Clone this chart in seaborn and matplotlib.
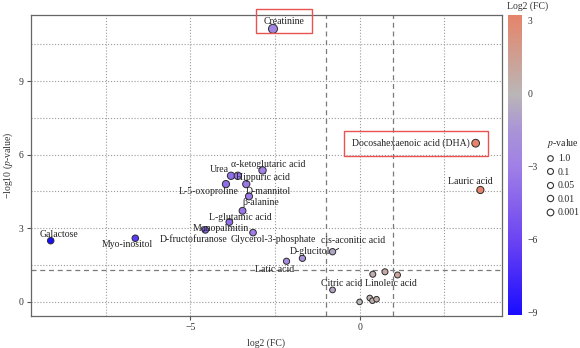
import numpy as np
import pandas as pd
import seaborn as sns
import matplotlib as mpl
import matplotlib.pyplot as plt
from matplotlib.colors import LinearSegmentedColormap, Normalize
from matplotlib.lines import Line2D

# metabolites
names = ["Creatinine", "Docosahexaenoic acid (DHA)", "Lauric acid", "Galactose", "Myo-inositol",
         "α-ketoglutaric acid", "Urea", "Hippuric acid", "L-5-oxoproline", "D-mannitol",
         "β-alanine", "L-glutamic acid", "Monopalmitin", "D-fructofuranose", "Glycerol-3-phosphate",
         "D-glucitol", "Latic acid", "cis-aconitic acid", "Citric acid", "Linoleic acid",
         "", "", "", "", "", ""]
log2fc = [-2.56, 3.43, 3.57, -9.13, -6.63,
          -2.87, -3.80, -3.60, -3.95, -3.35,
          -3.27, -3.46, -3.85, -4.56, -3.15,
          -1.69, -2.16, -0.80, -0.80, 1.12,
          0.00, 0.30, 0.38, 0.50, 0.39, 0.75]
neglogp = [11.14, 6.47, 4.56, 2.49, 2.59,
           5.36, 5.14, 5.14, 4.80, 4.80,
           4.30, 3.71, 3.25, 2.93, 2.82,
           1.77, 1.65, 2.04, 0.48, 1.09,
           -0.01, 0.15, 0.04, 0.10, 1.12, 1.22]

legend_p = [1.0, 0.1, 0.05, 0.01, 0.001]
cbar_ticks = [3, 0, -3, -6, -9]

df = pd.DataFrame({"name": names, "log2fc": log2fc, "neglogp": neglogp})

# label placement (data coords) picked to mimic the repelled labels
label_pos = {
    "Creatinine": (-2.24, 11.45),
    "Lauric acid": (3.26, 4.91),
    "Galactose": (-8.87, 2.76),
    "Myo-inositol": (-6.86, 2.33),
    "α-ketoglutaric acid": (-2.69, 5.62),
    "Urea": (-4.15, 5.40),
    "Hippuric acid": (-2.85, 5.05),
    "L-5-oxoproline": (-4.45, 4.49),
    "D-mannitol": (-2.70, 4.49),
    "β-alanine": (-2.93, 4.04),
    "L-glutamic acid": (-3.54, 3.43),
    "Monopalmitin": (-4.09, 3.00),
    "D-fructofuranose": (-4.90, 2.55),
    "Glycerol-3-phosphate": (-2.56, 2.55),
    "D-glucitol": (-1.47, 2.03),
    "Latic acid": (-2.52, 1.31),
    "cis-aconitic acid": (-0.18, 2.49),
    "Citric acid": (-0.53, 0.75),
    "Linoleic acid": (0.92, 0.75),
}
with_segment = ["D-fructofuranose", "cis-aconitic acid"]

sns.set_theme(style="white")
plt.rcParams["font.family"] = ["Liberation Serif", "DejaVu Serif"]
plt.rcParams["mathtext.fontset"] = "stix"

vmin, vmax = -9.1, 3.25
stops = [(-9.1, "#1a0cff"), (-6.0, "#6c44f2"), (-3.0, "#a080e6"), (-1.5, "#a994d6"),
         (0.0, "#bab6b6"), (3.25, "#e5846a")]
cmap = LinearSegmentedColormap.from_list(
    "fc", [((v - vmin) / (vmax - vmin), c) for v, c in stops])
norm = Normalize(vmin, vmax)

size_range = (16, 42)
size_norm = (0, 11.2)

fig = plt.figure(figsize=(5.8, 3.48), dpi=100)
ax = fig.add_axes([0.053, 0.093, 0.812, 0.865])
cax = fig.add_axes([0.875, 0.095, 0.025, 0.863])

ax.axvline(-1, ls=(0, (4, 3)), color="#7a7a7a", lw=0.9, zorder=1)
ax.axvline(1, ls=(0, (4, 3)), color="#7a7a7a", lw=0.9, zorder=1)
ax.axhline(-np.log10(0.05), ls=(0, (4, 3)), color="#7a7a7a", lw=0.9, zorder=1)

sns.scatterplot(data=df, x="log2fc", y="neglogp", hue="log2fc", palette=cmap, hue_norm=norm,
                size="neglogp", sizes=size_range, size_norm=size_norm,
                edgecolor="#2b2b2b", linewidth=0.7, legend=False, ax=ax, zorder=3)

for name, (lx, ly) in label_pos.items():
    row = df[df["name"] == name].iloc[0]
    if name in with_segment:
        ax.annotate(name, xy=(row["log2fc"], row["neglogp"]), xytext=(lx, ly),
                    ha="center", va="center", fontsize=7, color="#222222",
                    arrowprops=dict(arrowstyle="-", color="#222222", lw=0.7,
                                    shrinkA=0, shrinkB=3))
    elif name == "Creatinine":
        ax.text(lx, ly, name, ha="center", va="center", fontsize=7, color="#222222",
                bbox=dict(boxstyle="square,pad=0.75", fc="none", ec="#e8524f", lw=1),
                clip_on=False)
    else:
        ax.text(lx, ly, name, ha="center", va="center", fontsize=7, color="#222222")

# DHA label, boxed together with its point
ax.text(-0.22, 6.47, "Docosahexaenoic acid (DHA)    ", ha="left", va="center", fontsize=7,
        color="#222222", zorder=2,
        bbox=dict(boxstyle="square,pad=0.8", fc="none", ec="#e8524f", lw=1))

ax.set_xlim(-9.72, 4.2)
ax.set_ylim(-0.57, 11.72)
ax.set_xticks([-5, 0])
ax.set_xticks([-7.5, -2.5, 2.5], minor=True)
ax.set_yticks([0, 3, 6, 9])
ax.set_yticks([1.5, 4.5, 7.5, 10.5], minor=True)
ax.set_xticklabels(["−5", "0"])
ax.grid(which="both", ls=":", color="#9a9a9a", lw=0.8)
ax.set_axisbelow(True)
ax.tick_params(which="major", length=3, width=0.8, color="#555555", labelsize=7,
               labelcolor="#333333", pad=2, bottom=True, left=True)
ax.tick_params(which="minor", length=0)
for s in ax.spines.values():
    s.set_color("#666666")
    s.set_linewidth(0.9)
ax.set_xlabel("log2 (FC)", fontsize=7, color="#333333", labelpad=5)
ax.set_ylabel("−log10 ($p$-value)", fontsize=7, color="#333333", labelpad=3)

cb = fig.colorbar(mpl.cm.ScalarMappable(norm=norm, cmap=cmap), cax=cax, ticks=cbar_ticks)
cb.outline.set_visible(False)
cb.set_ticklabels(["3", "0", "−3", "−6", "−9"])
cax.tick_params(length=4, width=0.9, color="white", direction="in", left=True, right=True,
                labelsize=7, labelcolor="#333333", pad=4)
fig.text(0.91, 0.995, "Log2 (FC)", ha="center", va="top", fontsize=7, color="#333333")

lo, hi = size_norm
handles = []
for p in legend_p:
    v = -np.log10(p)
    s = size_range[0] + (size_range[1] - size_range[0]) * (v - lo) / (hi - lo)
    handles.append(Line2D([], [], marker="o", linestyle="", markersize=np.sqrt(s),
                          markerfacecolor="white", markeredgecolor="#333333",
                          markeredgewidth=0.8))
fig.legend(handles, [str(p) for p in legend_p], title="$p$-value", loc="upper left",
           bbox_to_anchor=(0.932, 0.62), frameon=False, fontsize=7, title_fontsize=7,
           handletextpad=0.3, labelspacing=0.45, borderpad=0, handlelength=1)

plt.savefig("out.png", dpi=100)
